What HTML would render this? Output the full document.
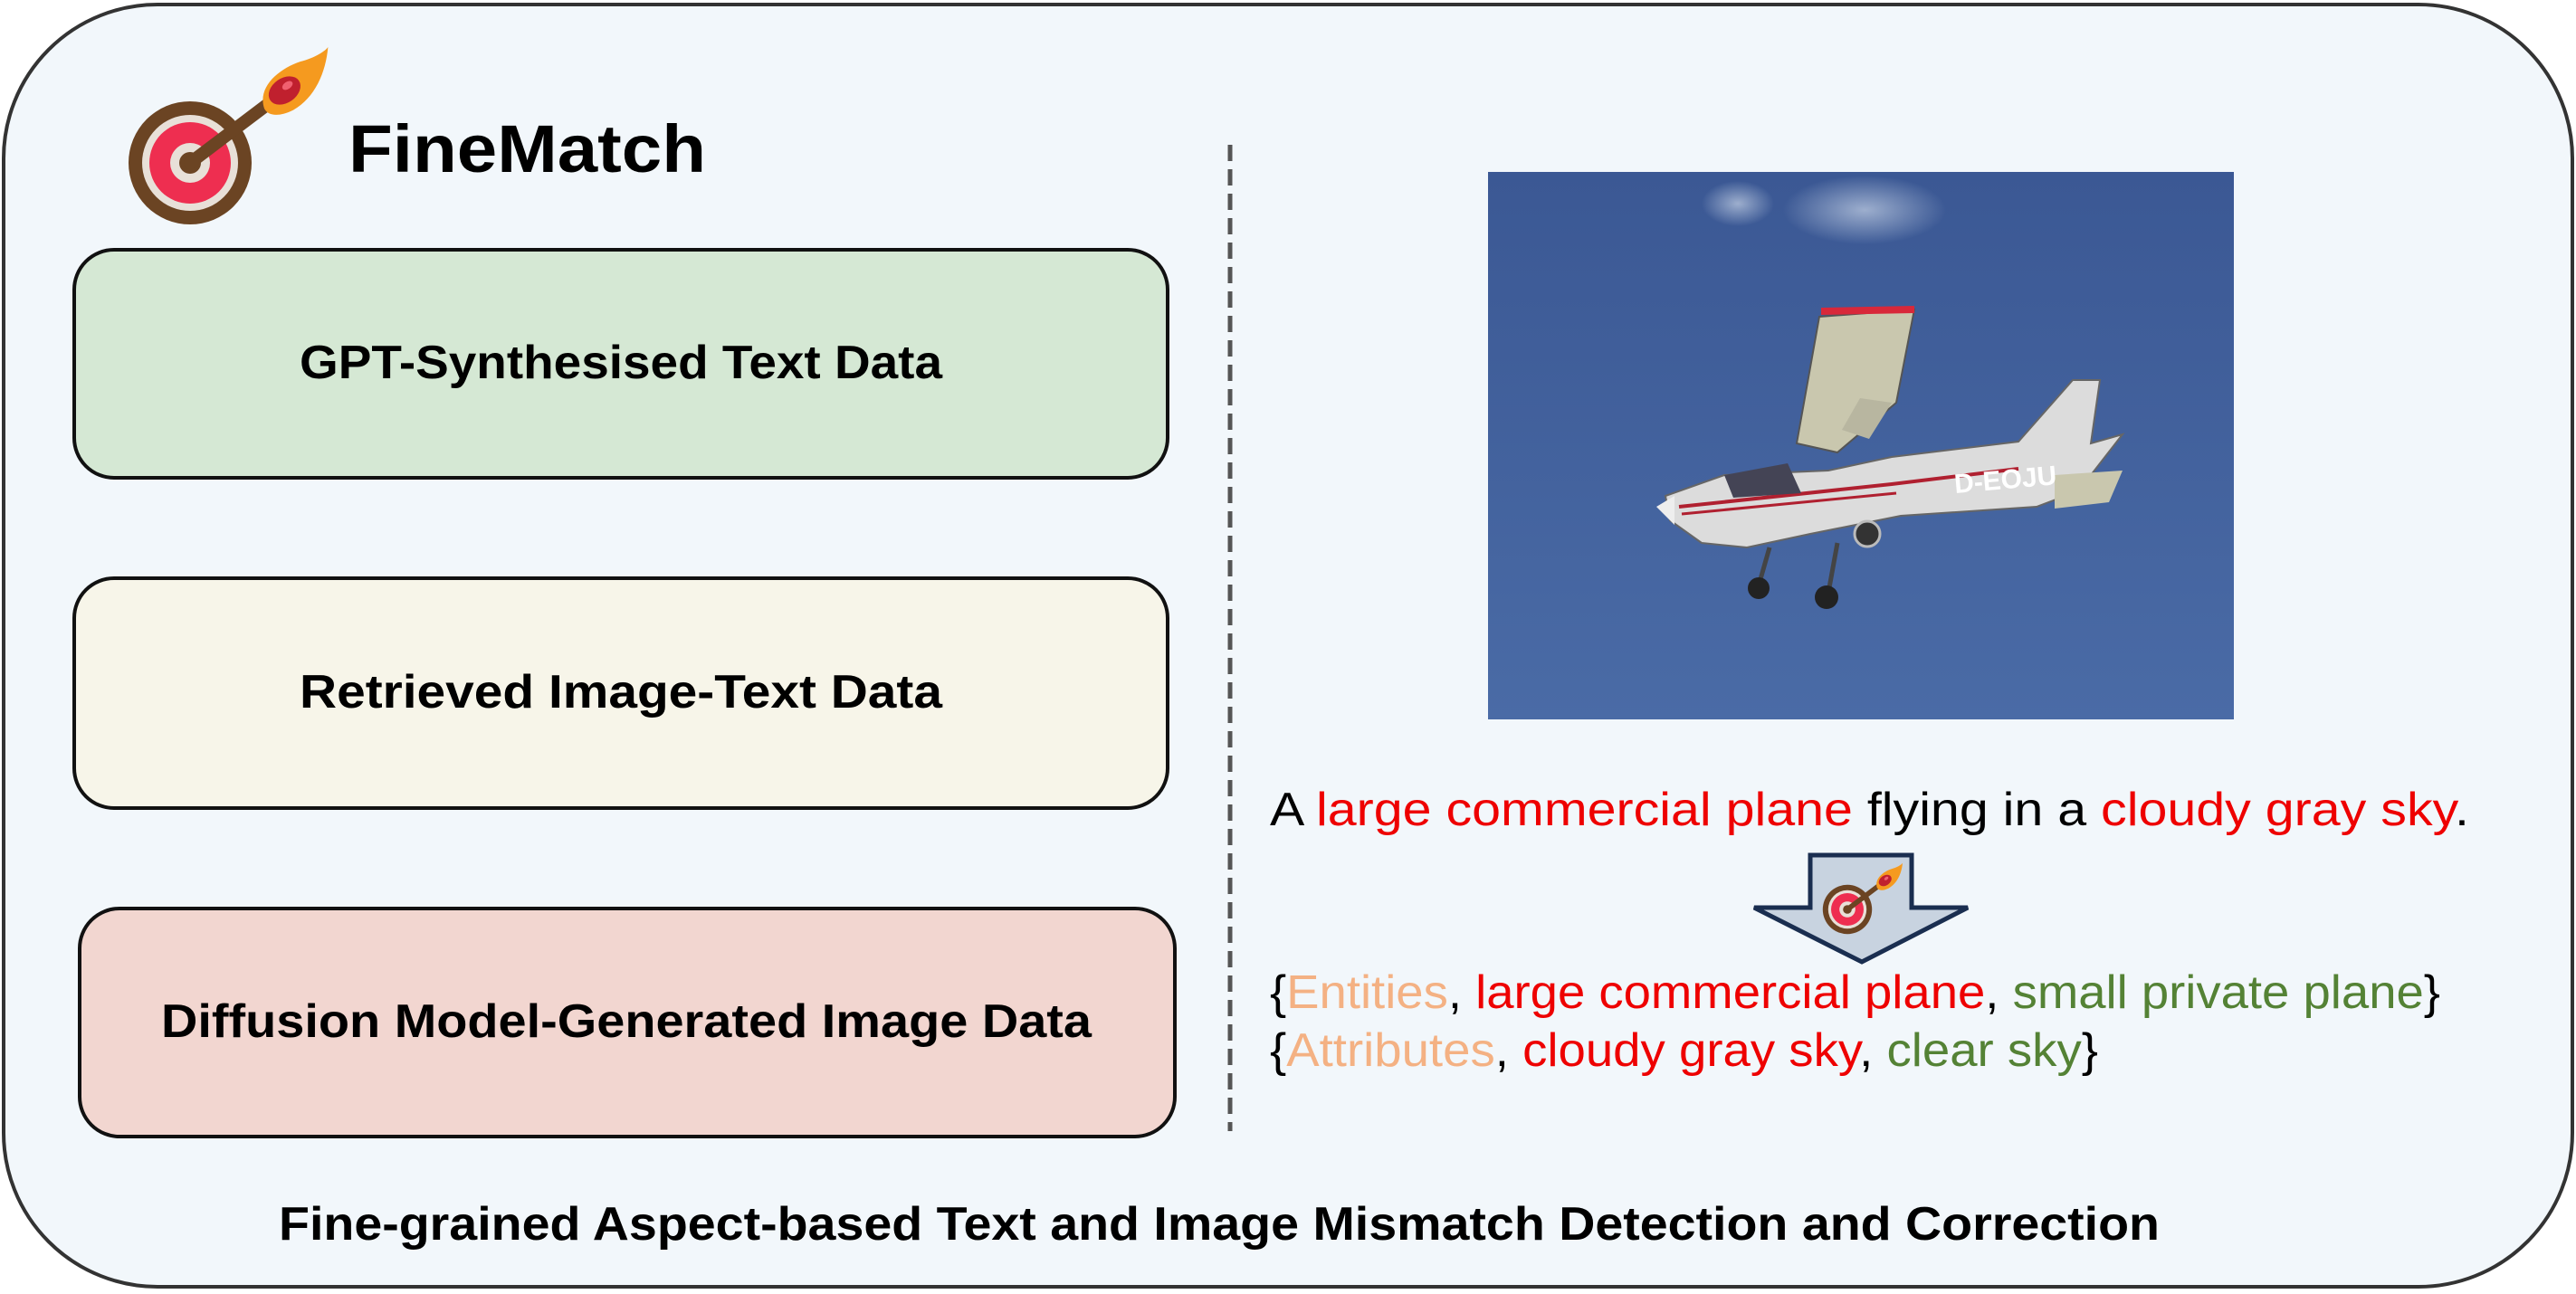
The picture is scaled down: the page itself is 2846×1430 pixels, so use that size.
<!DOCTYPE html>
<html><head><meta charset="utf-8"><style>
html,body{margin:0;padding:0;background:#fff;}
svg{display:block;}
text{font-family:"Liberation Sans","DejaVu Sans",sans-serif;}
</style></head><body>
<svg width="2846" height="1430" viewBox="0 0 2846 1430" xmlns="http://www.w3.org/2000/svg">
<defs>
<linearGradient id="sky" x1="0" y1="0" x2="0" y2="1">
<stop offset="0" stop-color="#3b5894"/><stop offset="1" stop-color="#4a6ba6"/>
</linearGradient>
<radialGradient id="cloud" cx="0.5" cy="0.5" r="0.5">
<stop offset="0" stop-color="#a8b8d4" stop-opacity="0.9"/><stop offset="1" stop-color="#a8b8d4" stop-opacity="0"/>
</radialGradient>
<g id="icon">
<circle cx="0" cy="0" r="68" fill="#6b4423"/>
<circle cx="0" cy="0" r="53" fill="#e8e0d8"/>
<circle cx="0" cy="0" r="45" fill="#ee2e50"/>
<circle cx="0" cy="0" r="22" fill="#e8e0d8"/>
<circle cx="0" cy="0" r="12" fill="#6b4423"/>
<circle cx="0" cy="0" r="5" fill="#e8e0d8"/>
<line x1="0" y1="0" x2="90" y2="-68" stroke="#6b4423" stroke-width="14" stroke-linecap="round"/>
<g transform="translate(82,-60) scale(0.8) translate(-100,70)">
<path d="M100,-70 C90,-100 120,-125 150,-135 C170,-140 185,-150 188,-155 C185,-120 170,-85 140,-68 C120,-58 105,-60 100,-70Z" fill="#f59a1f"/>
<ellipse cx="128" cy="-95" rx="24" ry="17" transform="rotate(-35 128 -95)" fill="#c0202e"/>
<ellipse cx="132" cy="-102" rx="8" ry="5" transform="rotate(-35 132 -102)" fill="#f06070"/>
</g>
</g>
</defs>
<rect x="4" y="5" width="2838" height="1417" rx="170" ry="170" fill="#f2f7fb" stroke="#333" stroke-width="4"/>

<use href="#icon" transform="translate(210,180)"/>
<text x="385" y="190" font-size="74" font-weight="bold" fill="#000" textLength="395" lengthAdjust="spacingAndGlyphs">FineMatch</text>

<rect x="82" y="276" width="1208" height="252" rx="44" fill="#d5e8d4" stroke="#111" stroke-width="4"/>
<text x="686" y="418" font-size="52" font-weight="bold" text-anchor="middle" textLength="710" lengthAdjust="spacingAndGlyphs">GPT-Synthesised Text Data</text>
<rect x="82" y="639" width="1208" height="254" rx="44" fill="#f7f5e9" stroke="#111" stroke-width="4"/>
<text x="686" y="782" font-size="52" font-weight="bold" text-anchor="middle" textLength="710" lengthAdjust="spacingAndGlyphs">Retrieved Image-Text Data</text>
<rect x="88" y="1004" width="1210" height="252" rx="44" fill="#f2d6d0" stroke="#111" stroke-width="4"/>
<text x="692" y="1146" font-size="52" font-weight="bold" text-anchor="middle" textLength="1028" lengthAdjust="spacingAndGlyphs">Diffusion Model-Generated Image Data</text>

<line x1="1359" y1="160" x2="1359" y2="1250" stroke="#555" stroke-width="5" stroke-dasharray="18,9"/>

<rect x="1644" y="190" width="824" height="605" fill="url(#sky)"/>
<ellipse cx="2060" cy="232" rx="90" ry="38" fill="url(#cloud)"/>
<ellipse cx="1920" cy="225" rx="40" ry="25" fill="url(#cloud)"/>
<g>
<polygon points="2010,350 2115,342 2095,445 2030,500 1985,490" fill="#c9c7ae" stroke="#555" stroke-width="2"/>
<polygon points="2012,340 2115,338 2115,346 2012,348" fill="#d8283a"/>
<polygon points="2055,440 2090,445 2065,485 2035,475" fill="#b8b6a0"/>
<polygon points="1840,548 1905,525 2020,520 2090,505 2230,488 2290,420 2320,420 2310,490 2345,480 2310,525 2290,545 2250,560 2100,570 2000,590 1930,605 1880,600 1845,575" fill="#dcdcdc" stroke="#666" stroke-width="2"/>
<path d="M1855,560 L2090,535 L2230,518" stroke="#b02030" stroke-width="4" fill="none"/>
<path d="M1858,568 L2095,545" stroke="#b02030" stroke-width="3" fill="none"/>
<polygon points="2270,525 2345,520 2330,555 2270,562" fill="#c9c7ae"/>
<polygon points="1905,525 1975,512 1990,545 1915,550" fill="#445"/>
<text x="2160" y="545" font-size="30" font-weight="bold" fill="#fff" transform="rotate(-5 2160 545)">D-EOJU</text>
<line x1="1955" y1="605" x2="1945" y2="640" stroke="#444" stroke-width="5"/>
<line x1="2030" y1="600" x2="2020" y2="655" stroke="#444" stroke-width="5"/>
<circle cx="1943" cy="650" r="12" fill="#222"/>
<circle cx="2018" cy="660" r="13" fill="#222"/>
<circle cx="2063" cy="590" r="14" fill="#333" stroke="#bbb" stroke-width="3"/>
<polygon points="1830,560 1850,548 1850,580" fill="#eee"/>
</g>

<text x="1403" y="912" font-size="52" textLength="1325" lengthAdjust="spacingAndGlyphs">A <tspan fill="#ee0000">large commercial plane</tspan> flying in a <tspan fill="#ee0000">cloudy gray sky</tspan>.</text>

<polygon points="2000,945 2112,945 2112,1003 2174,1003 2057,1063 1938,1003 2000,1003" fill="#c8d3e0" stroke="#1a2e50" stroke-width="5"/>
<use href="#icon" transform="translate(2041,1005) scale(0.4)"/>

<text x="1403" y="1114" font-size="52" textLength="1293" lengthAdjust="spacingAndGlyphs">{<tspan fill="#f4b183">Entities</tspan>, <tspan fill="#ee0000">large commercial plane</tspan>, <tspan fill="#548235">small private plane</tspan>}</text>
<text x="1403" y="1178" font-size="52" textLength="915" lengthAdjust="spacingAndGlyphs">{<tspan fill="#f4b183">Attributes</tspan>, <tspan fill="#ee0000">cloudy gray sky</tspan>, <tspan fill="#548235">clear sky</tspan>}</text>

<text x="1347" y="1370" font-size="52" font-weight="bold" text-anchor="middle" textLength="2078" lengthAdjust="spacingAndGlyphs">Fine-grained Aspect-based Text and Image Mismatch Detection and Correction</text>
</svg>
</body></html>
